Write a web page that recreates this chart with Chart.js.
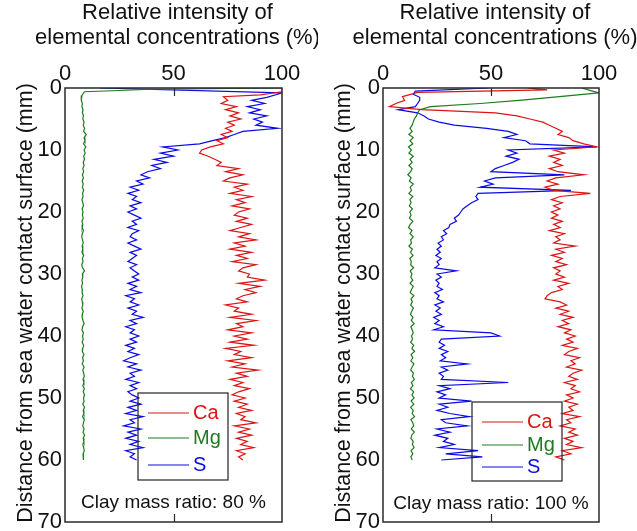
<!DOCTYPE html>
<html>
<head>
<meta charset="utf-8">
<script src="https://cdn.jsdelivr.net/npm/chart.js@4.4.0/dist/chart.umd.min.js"></script>
<style>
  body { margin: 0; background: #fff; }
  #wrap { position: relative; width: 637px; height: 531px; }
  canvas { position: absolute; top: 0; }
</style>
</head>
<body>
<div id="wrap">
  <canvas id="chart80" width="318" height="531" style="left:0"></canvas>
  <canvas id="chart100" width="319" height="531" style="left:318px"></canvas>
</div>
<script>
// axis text
const xTitle = ['Relative intensity of', 'elemental concentrations (%)'];
const yTitle = 'Distance from sea water contact surface (mm)';
const xTicks = [0, 50, 100];
const yTicks = [0, 10, 20, 30, 40, 50, 60, 70];
const innerTicks = [50];
const elements = ['Ca', 'Mg', 'S'];

// depth (mm) shared by the noisy part of every profile
const depthGrid = [2,2.5,3,3.5,4,4.5,5,5.5,6,
  6.5,7,7.5,8,8.5,9,9.5,10,10.5,11,11.5,12,
  12.5,13,13.5,14,14.5,15,15.5,16,16.5,17,17.5,18,18.5,19,19.5,20,
  20.5,21,21.5,22,22.5,23,23.5,24,24.5,25,25.5,26,26.5,27,27.5,28,28.5,29,29.5,30,
  30.5,31,31.5,32,32.5,33,33.5,34,34.5,35,35.5,36,36.5,37,37.5,38,38.5,39,39.5,40,
  40.5,41,41.5,42,42.5,43,43.5,44,44.5,45,45.5,46,46.5,47,47.5,48,48.5,49,49.5,50,
  50.5,51,51.5,52,52.5,53,53.5,54,54.5,55,55.5,56,56.5,57,57.5,58,58.5,59,59.5,60];

// ---- clay mass ratio 80 % ----
const ca80HeadDepth = [0, 0.6, 1.1, 1.4];
const ca80Head = [100, 100, 90, 73];
const ca80 = [75,72,79,74,80,76,81,75,78,
  74,77,72,75,70,73,67,63,62,66,69,72,
  70,80,74,82,76,73,84,78,82,76,86,79,83,77,85,80,
  78,84,79,86,81,76,85,80,88,78,83,76,86,79,84,77,88,82,80,85,
  84,92,80,90,83,88,82,79,84,74,80,78,86,76,88,79,82,75,86,78,
  84,76,87,74,81,78,86,75,83,77,89,79,84,76,82,78,85,80,77,83,
  78,84,80,86,79,83,81,88,78,85,80,86,79,84,81,87,79,83,80,82];

const mg80HeadDepth = [0, 0.2, 0.6, 1.2];
const mg80Head = [100, 40, 9, 7.8];
const mg80 = [7.5,8,7.8,8.3,8,8.5,8.2,8.8,8.4,
  9,8.6,9.8,8.8,9.2,8.5,9.6,8.8,9.3,8.6,9,8.4,
  8.8,8.2,8.6,8,8.5,7.9,8.4,8,8.6,8.1,8.3,7.8,8.2,8.5,7.9,8.3,
  8,8.4,7.8,8.2,7.9,8.5,8,7.7,8.1,8.4,7.9,8.2,7.8,8.6,8,8.3,7.7,8.1,9,8,
  8.2,7.8,8.1,7.6,8,7.9,8.3,7.7,8,8.2,7.8,8.4,8,7.9,8.3,8.8,8.1,7.8,8.5,8.1,
  8.4,7.9,8.6,8.2,8,8.7,8.1,8.5,7.9,8.8,8.2,8.6,8.9,8.3,8.7,8.2,8.9,8.4,9,8.5,
  8.8,8.2,9,8.4,8.7,8.1,8.9,8.5,8.2,8.8,8.3,9,8.4,8.7,8.2,8.6,8.9,8.3,8.6,8.4];

const s80HeadDepth = [0, 0.8, 1.5];
const s80Head = [16, 100, 93];
const s80 = [86,92,84,90,85,93,87,91,88,
  98,82,78,74,68,62,45,52,44,50,41,47,
  40,44,38,35,39,33,36,30,34,29,33,31,35,30,33,29,
  32,35,31,33,29,34,31,30,33,29,32,35,30,33,31,29,33,30,32,34,
  31,34,29,33,30,35,28,32,30,34,29,33,31,36,30,33,28,32,30,34,
  30,33,28,32,29,34,30,27,33,29,35,30,32,28,34,30,33,29,31,34,
  30,35,29,33,28,36,30,32,27,35,29,33,28,34,30,36,28,32,30,33];

// ---- clay mass ratio 100 % ----
const ca100HeadDepth = [0, 0.3, 0.7, 1.4];
const ca100Head = [67, 76, 16, 9];
const ca100 = [10,6,3,18,52,62,68,74,77,
  80,83,81,86,88,93,99,79,84,77,82,79,
  83,77,81,93,80,76,81,75,79,96,82,78,83,79,82,78,
  81,78,83,79,82,77,84,80,82,79,89,80,84,78,83,80,85,79,82,80,
  84,79,86,81,83,78,76,75,82,85,80,86,82,88,83,86,81,87,84,89,
  85,88,83,90,86,84,91,87,89,85,92,88,86,90,84,89,87,91,85,88,
  84,90,86,88,83,91,85,87,82,89,86,90,84,88,85,92,83,87,80,84];

const mg100HeadDepth = [0, 0.5, 0.8, 1.5];
const mg100Head = [92, 97, 100, 78];
const mg100 = [63,45,22,17,16,15.5,14.5,14,13.5,
  12.5,13.5,12,14,12.5,13.8,11.8,13.2,12,14,12.5,13.5,
  12,13.5,12.8,11.5,13,12.2,14,12.6,13.2,12,13.8,12.5,13,12.2,13.6,12.4,
  13,12.2,13.8,12.6,11.8,13.4,12.5,14,12.8,13.2,12,13.6,12.7,13.9,12.4,13.1,12.8,14.2,12.6,13.4,
  12.9,13.8,12.5,14,13.2,12.6,14.3,13,13.6,12.8,14.1,13.3,12.7,13.9,13.1,14.4,12.9,13.5,14,13.2,
  13.7,12.8,14.2,13.4,14.6,13,13.8,12.9,14.3,13.5,12.8,14.1,13.6,14.5,13.1,13.9,12.7,14.2,13.4,14.4,
  13,14.3,12.8,14,13.5,14.6,12.9,13.8,14.2,13.1,14.5,13.3,12.9,14,13.6,14.4,13,13.8,12.9,13.5];

const s100HeadDepth = [0, 0.5, 1, 1.5];
const s100Head = [49, 15, 14, 17];
const s100 = [17,16,15,7,16,19,21,26,33,
  48,58,62,56,66,68,99,58,62,57,63,60,
  56,52,50,84,52,47,51,45,87,44,43,44,41,39,37,36,
  35,33,34,31,30.5,28,29.5,27,28,25.5,27,25,26.5,24.5,27,25,26,24,34,25,
  27,24.5,26,25,27.5,24,26,25,28,24,26.5,24.5,27,23.5,26,24,28,23.5,50,54,
  27,26,28.5,26,30,27,29,26.5,39,27,30,26,28,27,58,26,31,25,29,26,
  41,26,30,25,31,40,27,29,39,25,31,24,30,28,33,26,44,29,46,27];

const colors = { Ca: '#dc1414', Mg: '#1e7a1e', S: '#0a0ae6' };
const FONT = '"Liberation Sans", Arial, sans-serif';

Chart.defaults.font.family = FONT;
Chart.defaults.color = '#111';

function profile(headDepth, head, vals) {
  if (vals.length !== depthGrid.length) throw new Error('length mismatch ' + vals.length);
  const pts = headDepth.map((d, i) => ({x: head[i], y: d}));
  return pts.concat(depthGrid.map((d, i) => ({x: vals[i], y: d})));
}

// titles, frame, inner ticks at 50, legend box and note
const panelDecor = {
  id: 'panelDecor',
  afterDraw(chart, args, opts) {
    const {ctx, chartArea: a, scales: {x}} = chart;
    const cx = (a.left + a.right) / 2;
    ctx.save();
    // axis titles (drawn by hand so they are not squeezed to the plot width)
    ctx.fillStyle = '#111';
    ctx.font = '22px ' + FONT;
    ctx.textAlign = 'center';
    ctx.textBaseline = 'middle';
    xTitle.forEach((t, i) => ctx.fillText(t, cx + 4, 13 + i * 25));
    ctx.save();
    ctx.font = '21.5px ' + FONT;
    ctx.translate(26, (a.top + a.bottom) / 2 - 2);
    ctx.rotate(-Math.PI / 2);
    ctx.fillText(yTitle, 0, 0);
    ctx.restore();

    ctx.strokeStyle = '#2a2a2a';
    ctx.lineWidth = 1.5;
    ctx.strokeRect(a.left, a.top, a.right - a.left, a.bottom - a.top);
    ctx.lineWidth = 1.2;
    innerTicks.forEach(v => {
      const px = Math.round(x.getPixelForValue(v)) + 0.5;
      ctx.beginPath();
      ctx.moveTo(px, a.top); ctx.lineTo(px, a.top + 8);
      ctx.moveTo(px, a.bottom); ctx.lineTo(px, a.bottom - 8);
      ctx.stroke();
    });

    const b = opts.box;
    const bx = a.left + b.x, by = a.top + b.y;
    ctx.strokeStyle = '#222';
    ctx.strokeRect(bx, by, b.w, b.h);
    ctx.font = '20px ' + FONT;
    ctx.textAlign = 'left';
    chart.data.datasets.forEach((ds, i) => {
      const ly = by + b.rows[i];
      ctx.strokeStyle = ds.borderColor;
      ctx.lineWidth = 1.2;
      ctx.beginPath(); ctx.moveTo(bx + 10, ly); ctx.lineTo(bx + 51, ly); ctx.stroke();
      ctx.fillStyle = ds.borderColor;
      ctx.fillText(ds.label, bx + 55, ly);
    });

    ctx.fillStyle = '#111';
    ctx.font = '19px ' + FONT;
    ctx.textAlign = 'center';
    ctx.fillText(opts.note, cx, a.top + opts.noteY);
    ctx.restore();
  }
};

function makeChart(id, series, padRight, box, note, noteY) {
  return new Chart(document.getElementById(id), {
    type: 'line',
    data: {
      datasets: elements.map((el, i) => ({
        label: el,
        data: series[i],
        borderColor: colors[el],
        borderWidth: 1.2,
        pointRadius: 0,
        tension: 0,
        fill: false
      }))
    },
    options: {
      responsive: false,
      animation: false,
      layout: { padding: { left: 0, top: 0, right: padRight, bottom: 9 } },
      plugins: {
        legend: { display: false },
        tooltip: { enabled: false },
        panelDecor: { box: box, note: note, noteY: noteY }
      },
      scales: {
        x: {
          type: 'linear', position: 'top', min: 0, max: 100,
          afterBuildTicks: s => { s.ticks = xTicks.map(v => ({value: v})); },
          ticks: { padding: 1, font: { size: 22 }, maxRotation: 0, color: '#111' },
          grid: { display: false, drawTicks: false },
          border: { display: false },
          title: { display: false },
          afterFit(s) { s.height = 88; s.paddingLeft = 0; s.paddingRight = 0; }
        },
        y: {
          type: 'linear', reverse: true, min: 0, max: 70,
          afterBuildTicks: s => { s.ticks = yTicks.map(v => ({value: v})); },
          ticks: { padding: 3, font: { size: 22 }, color: '#111' },
          grid: { display: false, drawTicks: false },
          border: { display: false },
          title: { display: false },
          afterFit(s) { s.width = 65; s.paddingTop = 0; s.paddingBottom = 0; }
        }
      }
    },
    plugins: [panelDecor]
  });
}

makeChart('chart80', [
  profile(ca80HeadDepth, ca80Head, ca80),
  profile(mg80HeadDepth, mg80Head, mg80),
  profile(s80HeadDepth, s80Head, s80)
], 36, { x: 73, y: 305, w: 90, h: 87, rows: [20, 45, 72] }, 'Clay mass ratio: 80 %', 415);

makeChart('chart100', [
  profile(ca100HeadDepth, ca100Head, ca100),
  profile(mg100HeadDepth, mg100Head, mg100),
  profile(s100HeadDepth, s100Head, s100)
], 38, { x: 89, y: 314, w: 90, h: 79, rows: [20, 43, 65] }, 'Clay mass ratio: 100 %', 416);
</script>
</body>
</html>
